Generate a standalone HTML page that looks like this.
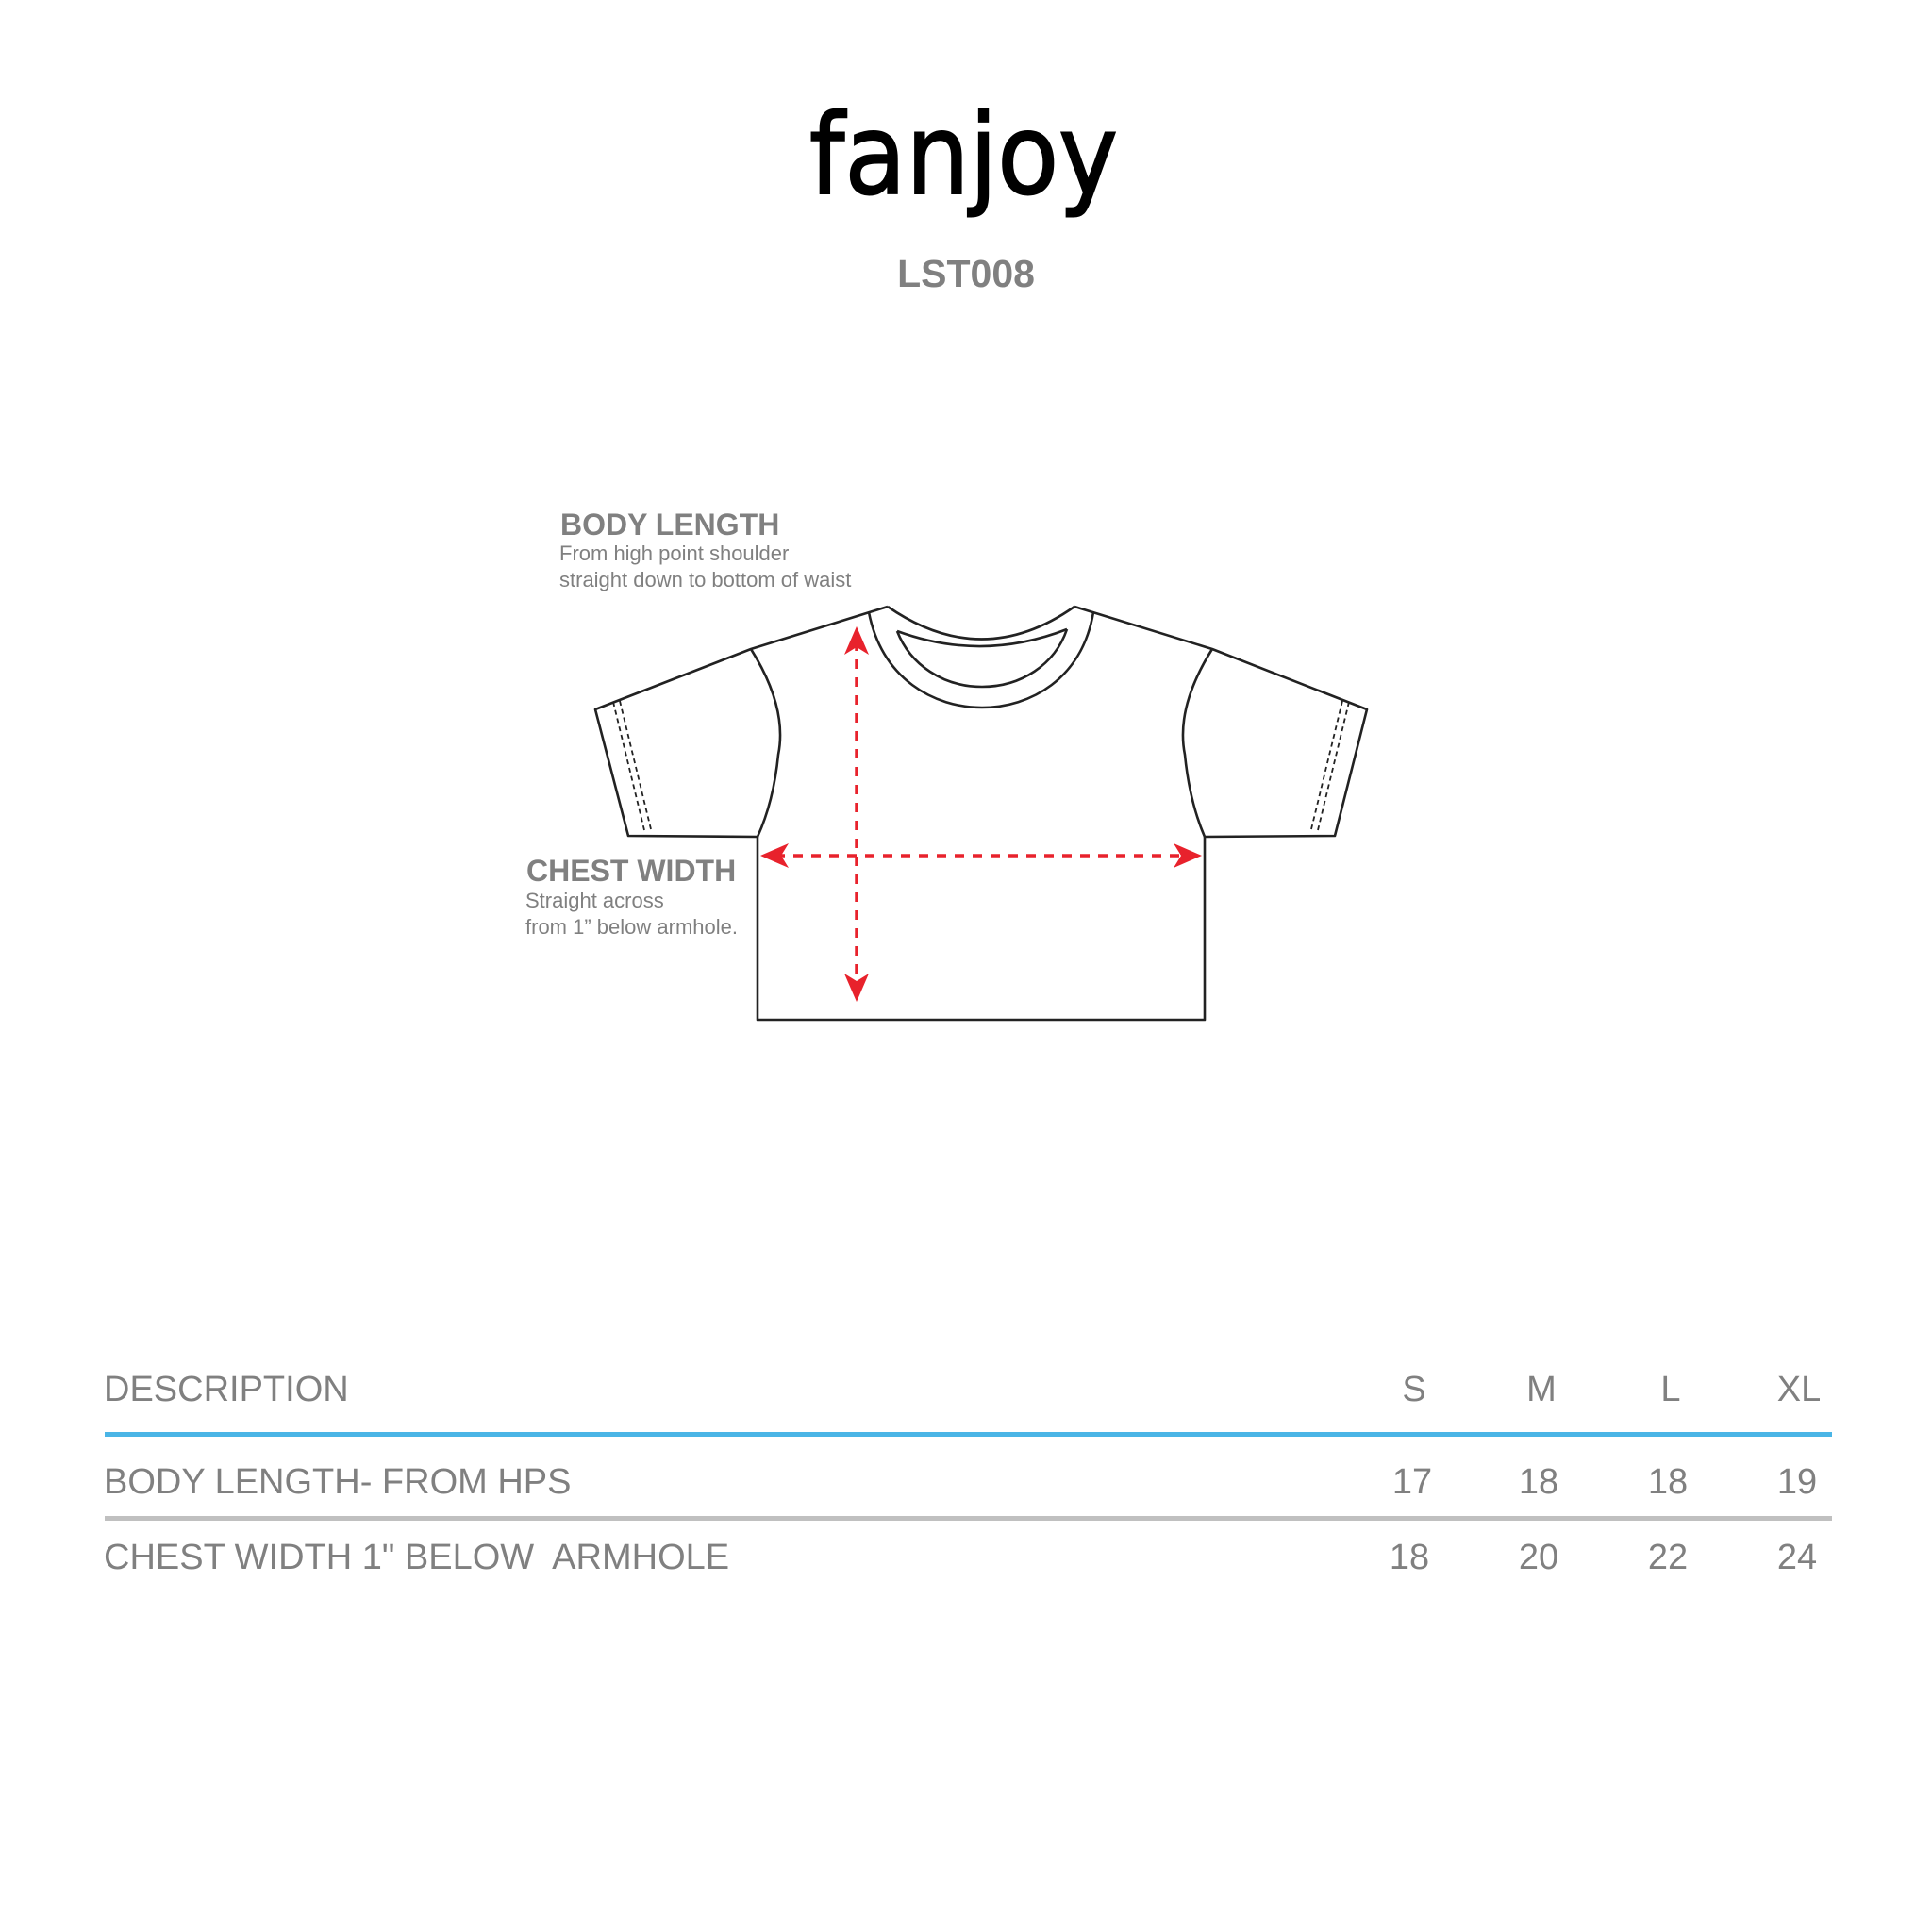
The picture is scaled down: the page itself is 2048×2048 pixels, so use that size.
<!DOCTYPE html>
<html><head><meta charset="utf-8"><style>
html,body{margin:0;padding:0;background:#fff;}
svg{display:block;}
</style></head><body>
<svg width="2048" height="2048" viewBox="0 0 2048 2048" xmlns="http://www.w3.org/2000/svg">
<rect width="2048" height="2048" fill="#fff"/>
<!-- logo -->
<text x="858" y="205" font-family="DejaVu Sans, sans-serif" font-size="118" fill="#000" stroke="#000" stroke-width="2" textLength="327" lengthAdjust="spacingAndGlyphs">fanjoy</text>
<text x="1024" y="304" text-anchor="middle" font-family="Liberation Sans, sans-serif" font-weight="bold" font-size="41" fill="#808080">LST008</text>

<!-- labels -->
<g font-family="Liberation Sans, sans-serif" fill="#808080">
<text x="594" y="567" font-weight="bold" font-size="32">BODY LENGTH</text>
<text x="593" y="594" font-size="22">From high point shoulder</text>
<text x="593" y="622" font-size="22">straight down to bottom of waist</text>
<text x="558" y="934" font-weight="bold" font-size="32">CHEST WIDTH</text>
<text x="557" y="962" font-size="22">Straight across</text>
<text x="557" y="990" font-size="22">from 1” below armhole.</text>
</g>

<!-- shirt -->
<g fill="none" stroke="#222" stroke-width="2.6" stroke-linejoin="round">
<path d="M941 643 L796 688 L631 752 L666 886 L803 887 L803 1081 L1277 1081 L1277 887 L1415 886 L1449 752 L1285 688 L1139 643"/>
<path d="M941 643 Q1041 712 1139 643"/>
<path d="M921 649 C935 720 990 750 1041 750 C1092 750 1147 720 1159 649"/>
<path d="M951 669 Q1041 702 1131 667"/>
<path d="M951 669 C965 705 1000 728 1041 728 C1082 728 1118 705 1131 667"/>
<path d="M796 688 Q835 750 825 800 Q820 850 803 887"/>
<path d="M1285 688 Q1246 750 1256 800 Q1261 850 1277 887"/>
</g>
<g fill="none" stroke="#222" stroke-width="1.8" stroke-dasharray="5,4">
<path d="M650 744 L683 880"/><path d="M657 743 L690 879"/>
<path d="M1430 744 L1397 880"/><path d="M1423 743 L1390 879"/>
</g>

<!-- arrows -->
<g stroke="#e8222c" stroke-width="3.5" stroke-dasharray="10,9" fill="none">
<line x1="908" y1="680" x2="908" y2="1048"/>
<line x1="822" y1="907" x2="1258" y2="907"/>
</g>
<g fill="#e8222c">
<path d="M908 664 L921 694 L908 686 L895 694 Z"/>
<path d="M908 1062 L921 1032 L908 1040 L895 1032 Z"/>
<path d="M806 907 L836 894 L828 907 L836 920 Z"/>
<path d="M1274 907 L1244 894 L1252 907 L1244 920 Z"/>
</g>

<!-- table -->
<rect x="111" y="1518" width="1831" height="5" fill="#4ab5e6"/>
<rect x="111" y="1607" width="1831" height="5" fill="#c0c0c0"/>
<g font-family="Liberation Sans, sans-serif" font-size="38" fill="#808080">
<text x="110" y="1485">DESCRIPTION</text>
<text x="110" y="1583">BODY LENGTH- FROM HPS</text>
<text x="110" y="1663">CHEST WIDTH 1" BELOW&#160; ARMHOLE</text>
<g text-anchor="middle">
<text x="1499" y="1485">S</text><text x="1634" y="1485">M</text><text x="1771" y="1485">L</text><text x="1907" y="1485">XL</text>
<text x="1497" y="1583">17</text><text x="1631" y="1583">18</text><text x="1768" y="1583">18</text><text x="1905" y="1583">19</text>
<text x="1494" y="1663">18</text><text x="1631" y="1663">20</text><text x="1768" y="1663">22</text><text x="1905" y="1663">24</text>
</g>
</g>
</svg>
</body></html>
